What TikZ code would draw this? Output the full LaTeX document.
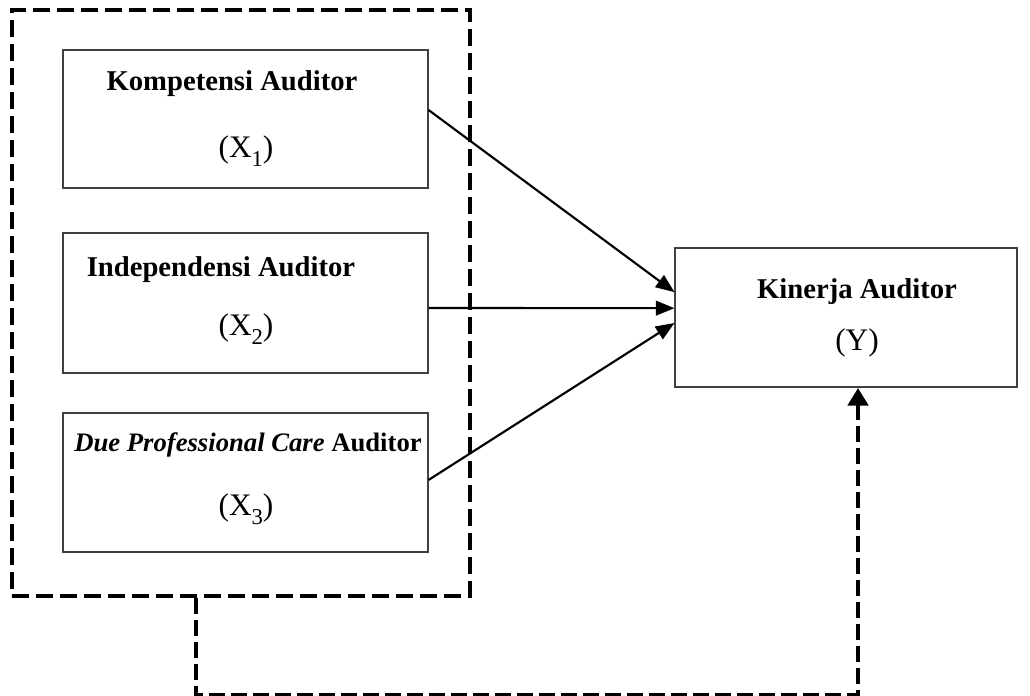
\documentclass[tikz,border=0pt]{standalone}
\usepackage{fontspec}
\setmainfont{Liberation Serif}
\usetikzlibrary{arrows.meta}
\newcommand{\xsub}[1]{(X\raisebox{-0.3em}{\fontsize{17}{17}\selectfont #1})}
\begin{document}
\begin{tikzpicture}[x=0.75pt,y=-0.75pt,
  box/.style={draw=black!75, line width=0.8pt, rectangle, inner sep=0pt},
  ttl/.style={font=\fontsize{21.5}{25}\selectfont\bfseries, inner sep=0pt},
  var/.style={font=\fontsize{23.5}{27}\selectfont, inner sep=0pt},
  grpline/.style={draw, line width=2.7pt, dash pattern=on 12.5pt off 5.5pt},
  fbline/.style={line width=2.7pt, dash pattern=on 12pt off 4.5pt},
  arr/.style={line width=1.6pt, -{Triangle[length=14pt,width=11pt]}}
]
\useasboundingbox (0,0) rectangle (1030,695);

% dashed group
\node[grpline, rectangle, inner sep=0pt, minimum width=343.5pt, minimum height=439.5pt] (grp) at (241,303) {};

% boxes
\node[box, minimum width=273.75pt, minimum height=103.5pt] (b1) at (245.5,119) {};
\node[box, minimum width=273.75pt, minimum height=105pt] (b2) at (245.5,303) {};
\node[box, minimum width=273.75pt, minimum height=104.25pt] (b3) at (245.5,482.5) {};
\node[box, minimum width=256.5pt, minimum height=104.25pt] (y) at (846,317.5) {};

% texts
\node[ttl] (t1) at (232,84) {Kompetensi Auditor};
\node[var] (x1) at (246,151) {\xsub{1}};
\node[ttl] (t2) at (221,270) {Independensi Auditor};
\node[var] (x2) at (246,329) {\xsub{2}};
\node[ttl, font=\fontsize{20}{24}\selectfont\bfseries] (t3) at (248,445) {\textit{Due Professional Care} Auditor};
\node[var] (x3) at (246,509) {\xsub{3}};
\node[ttl] (ty) at (857,292) {Kinerja Auditor};
\node[var] (yy) at (857,343) {(Y)};

% arrows
\draw[arr] ([yshift=6.75pt]b1.east) -- ([yshift=19pt]y.west);
\draw[arr] ([yshift=-3.75pt]b2.east) -- ([yshift=7pt]y.west);
\draw[arr] ([yshift=1.9pt]b3.east) -- ([yshift=-4.1pt]y.west);

% feedback dashed connector
\coordinate (fb) at ([xshift=-33.75pt]grp.south);
\coordinate (fbend) at ([xshift=9pt]y.south);
\draw[fbline] (fb) -- ++(0,97) -| ([yshift=-10pt]fbend);
\fill ([yshift=-0.5pt]fbend) -- ++(-8pt,-13pt) -- ++(16pt,0) -- cycle;
\end{tikzpicture}
\end{document}
